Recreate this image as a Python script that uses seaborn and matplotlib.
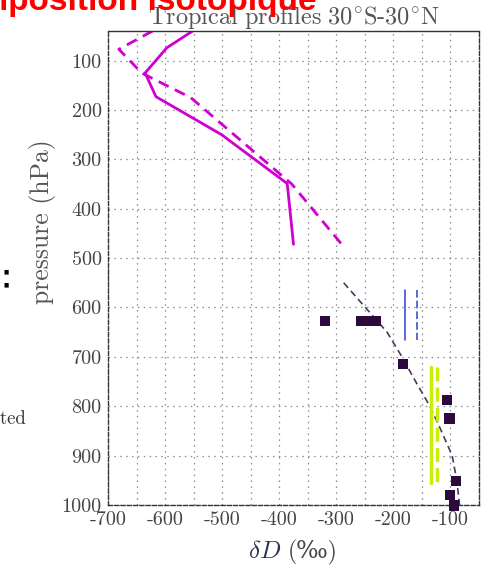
import numpy as np
import pandas as pd
import matplotlib
matplotlib.use("Agg")
import matplotlib.pyplot as plt
import seaborn as sns


############# Data #############

# model profiles (solid / dashed), dD in permil vs pressure in hPa
solid_dD = [-545, -597, -635, -616, -501, -386, -375]
solid_p = [35, 74, 125, 173, 250, 349, 472]

dash_dD = [-622, -681, -641, -555, -378, -287]
dash_p = [40, 77, 125, 175, 350, 477]

# fitted curve in the lower troposphere
fit_dD = [-287, -249, -211, -185, -161, -136, -116, -97, -89, -84]
fit_p = [550, 600, 650, 700, 750, 800, 850, 900, 950, 1000]

# observations
obs_dD = [-320, -257, -249, -231, -183, -106, -102, -90, -101, -94]
obs_p = [627, 627, 627, 627, 715, 787, 825, 951, 980, 1001]

# vertical ranges of two instruments
blue_dD = [-180, -158]
blue_p = [565, 666]
green_dD = [-134, -124]
green_p = [720, 956]

x_ticks = [-700, -600, -500, -400, -300, -200, -100]
y_ticks = [100, 200, 300, 400, 500, 600, 700, 800, 900, 1000]


############# Plot #############

sns.set_style("white")
plt.rcParams['font.family'] = ['cmr10', 'DejaVu Serif']
plt.rcParams['mathtext.fontset'] = 'cm'
plt.rcParams['axes.unicode_minus'] = False
plt.rcParams['axes.formatter.use_mathtext'] = False

magenta = '#d000d0'
fig = plt.figure(figsize=(4.83, 5.65), dpi=100)
ax = fig.add_axes([108 / 483, 1 - 505 / 565, 371 / 483, 474 / 565])

sns.lineplot(x=solid_dD, y=solid_p, sort=False, estimator=None, ax=ax,
             color=magenta, linewidth=2)
sns.lineplot(x=dash_dD, y=dash_p, sort=False, estimator=None, ax=ax,
             color=magenta, linewidth=2, linestyle=(0, (4, 2.5)))
sns.lineplot(x=fit_dD, y=fit_p, sort=False, estimator=None, ax=ax,
             color='#4a3a5a', linewidth=1.2, linestyle=(0, (4, 2.5)))

for x, ls in zip(blue_dD, ['-', (0, (5, 2))]):
    sns.lineplot(x=[x, x], y=blue_p, sort=False, estimator=None, ax=ax,
                 color='#3040d0', linewidth=1.1, linestyle=ls)
for x, ls in zip(green_dD, ['-', (0, (4, 1.8))]):
    sns.lineplot(x=[x, x], y=green_p, sort=False, estimator=None, ax=ax,
                 color='#c8f000', linewidth=2.5, linestyle=ls)

sns.scatterplot(x=obs_dD, y=obs_p, ax=ax, marker='s', s=56, color='#2d0a3e',
                edgecolor='none', clip_on=False, zorder=5)

ax.set_xlim(-700, -50)
ax.set_ylim(1000, 40)
ax.set_xticks(x_ticks)
ax.set_xticks(np.arange(-650, -50, 100), minor=True)
ax.set_yticks(y_ticks)
ax.grid(True, which='both', axis='x', color='#8a8a8a', linestyle=(0, (1.2, 3.5)), linewidth=0.9)
ax.grid(True, which='major', axis='y', color='#8a8a8a', linestyle=(0, (1.2, 3.5)), linewidth=0.9)
ax.tick_params(axis='both', which='major', direction='inout', length=5, width=0.8,
               colors='#333333', labelcolor='#444444', labelsize=14.5, pad=2)
ax.tick_params(axis='x', which='minor', length=0)

for side in ['left', 'bottom', 'right']:
    ax.spines[side].set_linestyle((0, (3, 1.5)))
for side in ax.spines:
    ax.spines[side].set_color('#333333')
    ax.spines[side].set_linewidth(1)

# x label in two pieces so the per-mille sign gets a font that has it
ax.text(0.466, -0.112, r'$\delta D$', transform=ax.transAxes, fontsize=18,
        color='#2a3350', ha='right', va='baseline')
ax.text(0.466 + 7 / 371, -0.112, '(‰)', transform=ax.transAxes, fontsize=17,
        color='#444444', ha='left', va='baseline')

ax.set_ylabel('pressure (hPa)', fontsize=18.5, color='#555555')
ax.yaxis.set_label_coords(-0.140, 0.597)
ax.set_title(r'$\mathrm{Tropical\ profiles\ 30^{\circ}S\text{-}30^{\circ}N}$',
             fontsize=17.5, color='#555555', pad=5)

# pieces of the neighbouring panels that fall inside the crop
fig.text(317 / 483, 1 - 10 / 565, 'Composition isotopique', color='#ff0000',
         fontsize=24, fontweight='bold', family='Liberation Sans',
         ha='right', va='baseline')
fig.text(6 / 483, 1 - 272 / 565, '■', fontsize=4, color='black',
         family='DejaVu Sans', ha='center', va='center')
fig.text(6 / 483, 1 - 285 / 565, '■', fontsize=4, color='black',
         family='DejaVu Sans', ha='center', va='center')
fig.text(26 / 483, 1 - 424 / 565, 'simulated', fontsize=13.5, color='#333333',
         ha='right', va='baseline')

plt.savefig('out.png', dpi=100)
plt.close()
